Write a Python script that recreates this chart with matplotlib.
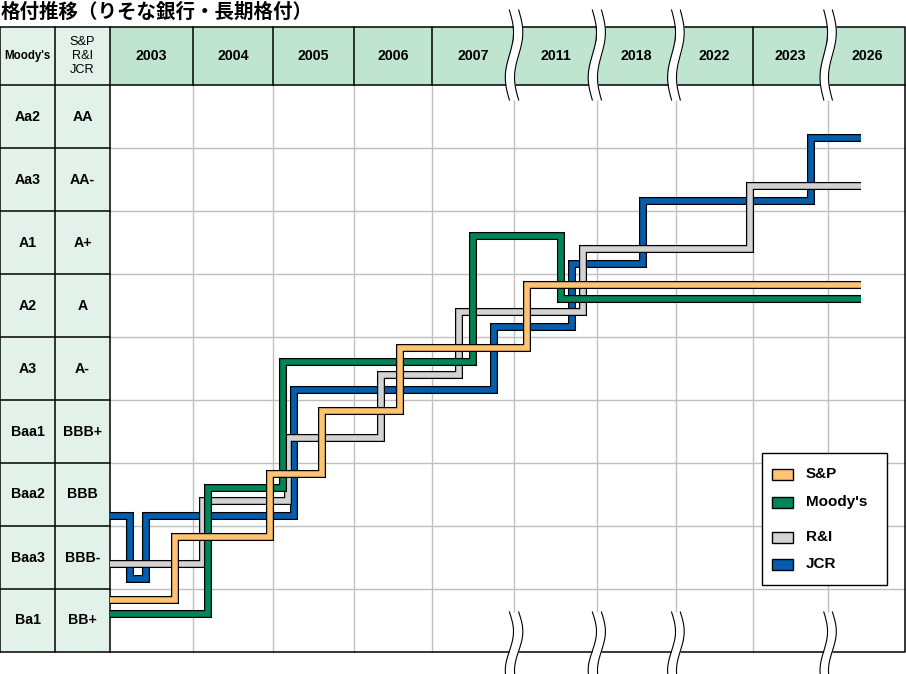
import matplotlib
matplotlib.use('Agg')
import matplotlib.pyplot as plt
import matplotlib.patheffects as pe
from matplotlib.patches import Rectangle
import numpy as np

plt.rcParams['font.family'] = ['Liberation Sans', 'Noto Sans CJK JP', 'DejaVu Sans']

title = '格付推移（りそな銀行・長期格付）'
years = ['2003', '2004', '2005', '2006', '2007', '2011', '2018', '2022', '2023', '2026']
# rating rows, bottom to top
moodys_labels = ['Ba1', 'Baa3', 'Baa2', 'Baa1', 'A3', 'A2', 'A1', 'Aa3', 'Aa2']
sp_labels = ['BB+', 'BBB-', 'BBB', 'BBB+', 'A-', 'A', 'A+', 'AA-', 'AA']
breaks = [5, 6, 7, 9]   # column edges where the time axis is cut

# x = position along the year columns (0 = start of 2003), r = rating row (0 = Ba1/BB+)
sp_x = [0, 0.78, 1.96, 2.60, 3.59, 5.16, 9.42]
sp_r = [0, 1, 2, 3, 4, 5, 5]
moodys_x = [0, 1.19, 2.12, 4.50, 5.57, 9.42]
moodys_r = [0, 2, 4, 6, 5, 5]
ri_x = [0, 1.12, 2.19, 3.35, 4.33, 5.83, 7.96, 9.42]
ri_r = [1, 2, 3, 4, 5, 6, 7, 7]
jcr_x = [0, 0.24, 0.43, 2.26, 4.76, 5.70, 6.58, 8.77, 9.42]
jcr_r = [2, 1, 2, 4, 5, 6, 7, 8, 8]

# name, x, rating, colour, offset inside the row
series = [
    ('JCR', jcr_x, jcr_r, '#055EAD', 0.16),
    ('R&I', ri_x, ri_r, '#D3D3D3', 0.40),
    ("Moody's", moodys_x, moodys_r, '#008656', 0.60),
    ('S&P', sp_x, sp_r, '#FFC372', 0.825),
]
legend_order = ['S&P', "Moody's", 'R&I', 'JCR']

# columns are not all equally wide: piecewise x scale (label cols at -2..0)
knots = np.arange(-2, 11)
knot_px = np.array([0, 55, 110, 193, 273, 354, 432, 514, 597, 676, 753, 828, 906], float)


def fwd(x):
    return np.interp(x, knots, knot_px, left=-1e3, right=2e3)


def inv(p):
    return np.interp(p, knot_px, knots)


RH = 63.0          # px per rating row
HH = 58 / RH       # header height
xr = 9.987         # right border

hdr_green = '#BFE5D1'
lbl_green = '#E2F2EA'
grid_gray = '#BFBFBF'

fig = plt.figure(figsize=(9.06, 6.74), dpi=100)
ax = fig.add_axes([0, 0, 1, 1])
ax.set_xscale('function', functions=(fwd, inv))
ax.set_xlim(-2, 10)
ax.set_ylim(-22 / RH, 652 / RH)
ax.axis('off')

ncol = len(years)
nrow = len(moodys_labels)

# cells
ax.add_patch(Rectangle((0, nrow), xr, HH, fc=hdr_green, ec='none', zorder=0))
ax.add_patch(Rectangle((-2, 0), 2, nrow + HH, fc=lbl_green, ec='none', zorder=0))

# grey grid in the body
for i in range(1, ncol):
    ax.plot([i, i], [0, nrow], color=grid_gray, lw=1, zorder=1)
for j in range(1, nrow):
    ax.plot([0, xr], [j, j], color=grid_gray, lw=1, zorder=1)

# black table lines
blk = dict(color='black', lw=1.1, zorder=2)
ax.plot([-1.995, xr, xr, -1.995, -1.995], [0, 0, nrow + HH, nrow + HH, 0], **blk)
ax.plot([-2, xr], [nrow, nrow], **blk)
for xv in (-1, 0):
    ax.plot([xv, xv], [0, nrow + HH], **blk)
for j in range(1, nrow):
    ax.plot([-2, 0], [j, j], **blk)
for i in range(1, ncol):
    ax.plot([i, i], [nrow, nrow + HH], **blk)

# texts
for i, y in enumerate(years):
    ax.text(i + 0.5, nrow + HH / 2, y, ha='center', va='center', fontsize=10.2,
            fontweight='bold', zorder=3)
for j in range(nrow):
    ax.text(-1.5, j + 0.5, moodys_labels[j], ha='center', va='center',
            fontsize=10.2, fontweight='bold', zorder=3)
    ax.text(-0.5, j + 0.5, sp_labels[j], ha='center', va='center',
            fontsize=10.2, fontweight='bold', zorder=3)
ax.text(-1.5, nrow + HH / 2, "Moody's", ha='center', va='center',
        fontsize=8.3, fontweight='bold', zorder=3)
ax.text(-0.5, nrow + HH / 2, 'S&P\nR&I\nJCR', ha='center', va='center',
        fontsize=9.2, linespacing=1.25, zorder=3)
ax.text(-1.99, (652 - 12) / RH, title, ha='left', va='center', fontsize=14,
        fontweight='bold', family=['Noto Sans CJK JP'], zorder=3)

# rating lines
for k, (name, xs, rs, col, off) in enumerate(series):
    ys = [r + off for r in rs]
    ax.plot(xs, ys, drawstyle='steps-post', color=col, lw=4.0,
            solid_joinstyle='miter', solid_capstyle='butt', zorder=4 + k,
            path_effects=[pe.Stroke(linewidth=5.8, foreground='black'), pe.Normal()])


# axis break marks
def draw_break(xc, ytop, ybot):
    t = np.linspace(0, 1, 120)
    yy = ytop + (ybot - ytop) * t
    dx = 4 / 80 * np.sin(2 * np.pi * t)
    g = 4.5 / 80
    ax.fill_betweenx(yy, xc - g + dx, xc + g + dx, color='white', lw=0, zorder=10)
    ax.plot(xc - g + dx, yy, color='black', lw=0.8, zorder=11)
    ax.plot(xc + g + dx, yy, color='black', lw=0.8, zorder=11)


for b in breaks:
    draw_break(b, (652 - 10) / RH, (652 - 100) / RH)
    draw_break(b, (652 - 612) / RH, (652 - 690) / RH)

# legend (positions in px)
lx0, lx1 = inv(762), inv(887)
ly0 = (652 - 585) / RH
ax.add_patch(Rectangle((lx0, ly0), lx1 - lx0, 132 / RH, fc='white', ec='black', lw=1,
                       zorder=12))
leg_y = [474, 502, 537, 564]
colors = {s[0]: s[3] for s in series}
for name, py in zip(legend_order, leg_y):
    yc = (652 - py) / RH
    px0, px1 = inv(772), inv(793)
    ax.add_patch(Rectangle((px0, yc - 5.5 / RH), px1 - px0, 11 / RH,
                           fc=colors[name], ec='black', lw=1, zorder=13))
    ax.text(inv(806), yc, name, ha='left', va='center', fontsize=11,
            fontweight='bold', zorder=13)

fig.savefig('out.png', dpi=100)
